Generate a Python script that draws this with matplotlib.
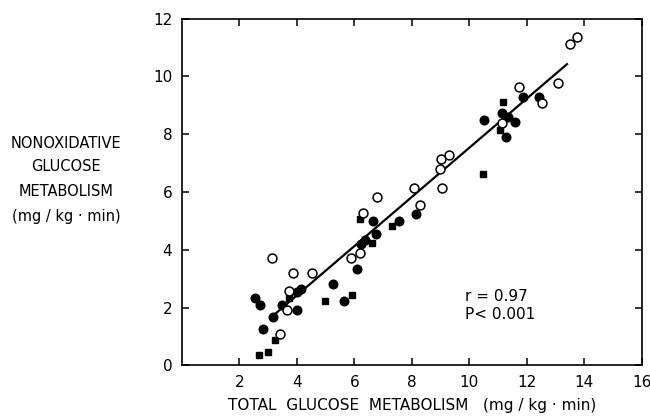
import matplotlib
matplotlib.use("Agg")
import matplotlib.pyplot as plt
import numpy as np

# filled circles
fc_x = [2.55, 2.72, 2.81, 3.17, 3.48, 4.00, 4.15, 4.02, 5.24, 5.65, 6.08, 6.24,
        6.38, 6.64, 6.76, 7.57, 8.15, 10.52, 11.15, 11.33, 11.29, 11.60, 11.87, 12.44]
fc_y = [2.32, 2.07, 1.25, 1.68, 2.10, 2.53, 2.64, 1.92, 2.82, 2.24, 3.33, 4.18,
        4.32, 4.99, 4.56, 5.01, 5.23, 8.48, 8.72, 8.58, 7.90, 8.43, 9.27, 9.28]

# filled squares
sq_x = [2.69, 3.00, 3.22, 3.72, 4.99, 5.90, 6.19, 6.63, 7.30, 10.49, 11.16, 11.07]
sq_y = [0.34, 0.46, 0.89, 2.33, 2.23, 2.42, 5.05, 4.24, 4.83, 6.61, 9.12, 8.13]

# open circles
oc_x = [3.14, 3.40, 3.65, 3.74, 3.88, 4.51, 5.89, 6.20, 6.30, 6.80, 8.06, 8.28,
        8.98, 9.03, 9.28, 9.06, 11.14, 11.74, 12.52, 13.07, 13.51, 13.76]
oc_y = [3.71, 1.07, 1.91, 2.56, 3.21, 3.21, 3.72, 3.88, 5.26, 5.84, 6.12, 5.56,
        6.79, 7.14, 7.26, 6.12, 8.39, 9.62, 9.06, 9.77, 11.11, 11.35]

# regression line ends
fit_x = [3.15, 13.4]
fit_y = [1.70, 10.42]

xticks = [2, 4, 6, 8, 10, 12, 14, 16]
yticks = [0, 2, 4, 6, 8, 10, 12]

plt.rcParams['font.family'] = ['DejaVu Sans']

fig = plt.figure(figsize=(6.5, 4.19), dpi=100)
ax = fig.add_axes([182 / 650, 1 - 365.3 / 419, (641.7 - 182) / 650, (365.3 - 18.5) / 419])

ax.plot(fit_x, fit_y, color='black', lw=1.6, zorder=2)
ax.plot(fc_x, fc_y, 'o', color='black', ms=6.2, zorder=3)
ax.plot(sq_x, sq_y, 's', color='black', ms=5, zorder=3)
ax.plot(oc_x, oc_y, 'o', mfc='white', mec='black', mew=1.1, ms=6.4, zorder=4)

ax.set_xlim(0, 16)
ax.set_ylim(0, 12)
ax.set_xticks(xticks)
ax.set_yticks(yticks)
ax.tick_params(direction='in', length=5, width=1.1, top=True, right=True,
               labelsize=11, pad=7)
for s in ax.spines.values():
    s.set_linewidth(1.2)

ax.set_xlabel('TOTAL  GLUCOSE  METABOLISM   (mg / kg · min)', fontsize=11, labelpad=6)

ylab = ['NONOXIDATIVE', 'GLUCOSE', 'METABOLISM', '(mg / kg · min)']
ylab_y = [143, 166, 191, 216]
for t, py in zip(ylab, ylab_y):
    fig.text(66 / 650, 1 - py / 419, t, ha='center', va='center', fontsize=10.5)

ax.text(465 / 650, 1 - 296.7 / 419, 'r = 0.97', transform=fig.transFigure,
        ha='left', va='center', fontsize=11)
ax.text(465 / 650, 1 - 314 / 419, 'P< 0.001', transform=fig.transFigure,
        ha='left', va='center', fontsize=11)

fig.savefig('out.png', dpi=100)
